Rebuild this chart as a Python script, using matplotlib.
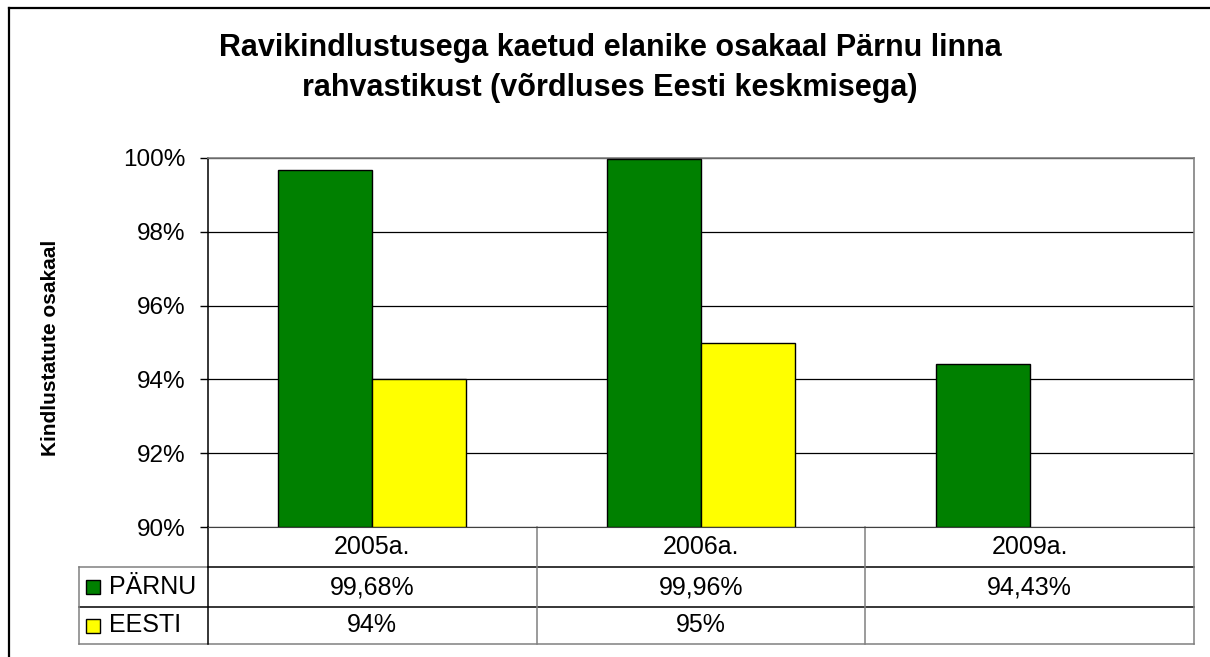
import matplotlib
matplotlib.use("Agg")
import matplotlib.pyplot as plt
import numpy as np
from matplotlib.lines import Line2D

plt.rcParams["font.family"] = ["Liberation Sans", "DejaVu Sans"]

# data
years = ["2005a.", "2006a.", "2009a."]
parnu = [99.68, 99.96, 94.43]
eesti = [94.0, 95.0, np.nan]
series_names = ["PÄRNU", "EESTI"]
series_colors = ["#008000", "#FFFF00"]
title = "Ravikindlustusega kaetud elanike osakaal Pärnu linna\nrahvastikust (võrdluses Eesti keskmisega)"
ylabel = "Kindlustatute osakaal"

W, H = 1210, 657
fig = plt.figure(figsize=(W / 100, H / 100), dpi=100)
fig.patch.set_facecolor("white")

# outer chart frame (left + top edges visible)
fig.add_artist(Line2D([9 / W, 9 / W], [0, 1 - 8 / H], color="black", lw=1.6))
fig.add_artist(Line2D([9 / W, 1], [1 - 8 / H, 1 - 8 / H], color="black", lw=1.6))

L, R, T, B = 208, 1194, 158, 527
ax = fig.add_axes([L / W, 1 - B / H, (R - L) / W, (B - T) / H])
x = np.arange(len(years))
bw = 1 / 3.5
for vals, col, off in [(parnu, series_colors[0], -bw), (eesti, series_colors[1], 0)]:
    v = np.array(vals)
    m = ~np.isnan(v)
    ax.bar(x[m] + off, v[m] - 90, bottom=90, width=bw, align="edge",
           color=col, edgecolor="black", linewidth=1.0, zorder=3)

ax.set_xlim(-0.5, 2.5)
ax.set_ylim(90, 100)
ax.set_yticks(np.arange(90, 101, 2))
ax.set_yticklabels([f"{t}%" for t in range(90, 101, 2)])
ax.set_xticks([])
ax.tick_params(axis="y", length=6, width=1, pad=10, labelsize=17.5, color="black")
ax.grid(True, axis="y", color="black", lw=0.9, zorder=1)
for s in ("top", "right"):
    ax.spines[s].set_color("#808080")
    ax.spines[s].set_linewidth(1.2)
ax.spines["left"].set_color("black")
ax.spines["bottom"].set_color("#404040")
ax.spines["left"].set_linewidth(1.1)

fig.text(610 / W, 1 - 68 / H, title, ha="center", va="center", fontsize=22,
         fontweight="bold", linespacing=1.42)
fig.text(51 / W, 1 - 348 / H, ylabel, ha="center", va="center", rotation=90,
         fontsize=15, fontweight="bold")

# data table under the plot, drawn in (data x, axes-fraction y)
tr = ax.get_xaxis_transform()
ph = B - T
rows = [0, -40 / ph, -80 / ph, -117 / ph]
xl = -0.5 - (L - 79) / (R - L) * 3
GRAY = "#808080"

def hline(y, x0, x1, c):
    ax.add_line(Line2D([x0, x1], [y, y], transform=tr, color=c, lw=1.1, clip_on=False))

def vline(xv, y0, y1, c):
    ax.add_line(Line2D([xv, xv], [y0, y1], transform=tr, color=c, lw=1.1, clip_on=False))

hline(rows[1], xl, -0.5, GRAY)
hline(rows[1], -0.5, 2.5, "black")
hline(rows[2], xl, 2.5, "black")
hline(rows[3], xl, 2.5, GRAY)
vline(xl, rows[1], rows[3], GRAY)
vline(-0.5, rows[0], rows[3], "black")
for b in (0.5, 1.5, 2.5):
    vline(b, rows[0], rows[3], GRAY)

fs = 18
def fmt(v):
    if np.isnan(v):
        return ""
    return (f"{v:.0f}%" if float(v).is_integer() else f"{v:.2f}%").replace(".", ",")

for i, yr in enumerate(years):
    ax.text(i, (rows[0] + rows[1]) / 2, yr, transform=tr, ha="center", va="center", fontsize=fs)
for r, (name, col, vals) in enumerate(zip(series_names, series_colors, [parnu, eesti])):
    yc = (rows[r + 1] + rows[r + 2]) / 2
    ax.plot([-0.5 - (L - 93) / (R - L) * 3], [yc], marker="s", ms=10, mfc=col, mec="black",
            mew=1.0, transform=tr, clip_on=False)
    ax.text(-0.5 - (L - 109) / (R - L) * 3, yc, name, transform=tr, ha="left", va="center",
            fontsize=fs)
    for i, v in enumerate(vals):
        ax.text(i, yc, fmt(v), transform=tr, ha="center", va="center", fontsize=fs)

fig.savefig("out.png", dpi=100, facecolor="white")
